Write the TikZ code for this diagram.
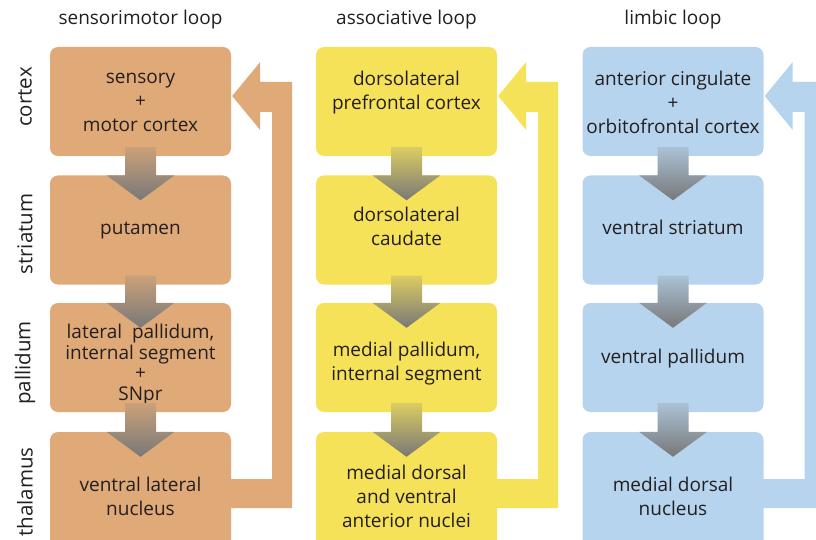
\documentclass[tikz,border=0pt]{standalone}
\usepackage{fontspec}
\setmainfont{Open Sans}
\usetikzlibrary{calc}
\definecolor{smc}{RGB}{224,170,120}
\definecolor{asc}{RGB}{246,226,88}
\definecolor{lbc}{RGB}{182,212,238}
\definecolor{txt}{RGB}{35,31,32}
\definecolor{arrgray}{RGB}{120,120,120}
\newcommand\flowdown[3]{%
  \shade[top color=#3!78!gray, bottom color=arrgray]
    ($(#1.south)+(-15.5,-9)$) -- ($(#1.south)+(15.5,-9)$) --
    ($(#2.north)+(15.5,0)$) -- ($(#2.north)+(34,0)$) --
    ($(#2.north)+(0,25)$) --
    ($(#2.north)+(-34,0)$) -- ($(#2.north)+(-15.5,0)$) -- cycle;}
\newcommand\feedback[3]{%
  \fill[#3]
    ($(#2.east)+(-2,11)$) -- ($(#2.east)+(61,11)$) --
    ($(#1.east)+(61,-19.5)$) -- ($(#1.east)+(29,-19.5)$) --
    ($(#1.east)+(29,-39.5)$) -- ($(#1.east)+(1,-5.5)$) --
    ($(#1.east)+(29,28.5)$) -- ($(#1.east)+(29,10.5)$) --
    ($(#1.east)+(41,10.5)$) -- ($(#2.east)+(41,-18)$) --
    ($(#2.east)+(-2,-18)$) -- cycle;}
\begin{document}
\begin{tikzpicture}[x=1pt,y=-1pt,
  box/.style={rounded corners=8pt, minimum width=181pt, minimum height=109pt,
    inner sep=0pt},
  lastbox/.style={box, minimum height=130pt},
  boxtext/.style={inner sep=0pt, align=center, text=txt, font=\fontsize{19}{24}\selectfont},
  title/.style={text=txt, font=\fontsize{19}{22}\selectfont},
  rowlab/.style={text=txt, rotate=90, font=\fontsize{20.5}{24}\selectfont}]
\useasboundingbox (0,0) rectangle (816,540);
\clip (0,0) rectangle (816,540);
\fill[white] (0,0) rectangle (816,540);

% titles
\node[title] (ts) at (140.5,20) {sensorimotor loop};
\node[title] (ta) at (406.5,20) {associative loop};
\node[title] (tl) at (673,20) {limbic loop};

% row labels
\node[rowlab] (lc) at (25,97) {cortex};
\node[rowlab] (ls) at (25,234) {striatum};
\node[rowlab] (lp) at (25,363) {pallidum};
\node[rowlab] (lt) at (25,492) {thalamus};

% boxes
\node[box, fill=smc] (s1) at (140.5,101.5) {};
\node[box, fill=smc] (s2) at (140.5,230) {};
\node[box, fill=smc] (s3) at (140.5,357.5) {};
\node[lastbox, fill=smc] (s4) at (140.5,497) {};
\node[box, fill=asc] (a1) at (406.5,101.5) {};
\node[box, fill=asc] (a2) at (406.5,230) {};
\node[box, fill=asc] (a3) at (406.5,357.5) {};
\node[lastbox, fill=asc] (a4) at (406.5,497) {};
\node[box, fill=lbc] (b1) at (673,101.5) {};
\node[box, fill=lbc] (b2) at (673,230) {};
\node[box, fill=lbc] (b3) at (673,357.5) {};
\node[lastbox, fill=lbc] (b4) at (673,497) {};

% box texts
\node[boxtext] (s1t) at ($(s1.center)+(0,1)$) {sensory\\+\\motor cortex};
\node[boxtext] (s2t) at ($(s2.center)+(0,1)$) {putamen};
\node[boxtext, font=\fontsize{19}{20.5}\selectfont] (s3t) at ($(s3.center)+(0,7)$)
  {lateral~ pallidum,\\internal segment\\+\\SNpr};
\node[boxtext] (s4t) at ($(s4.center)+(0,-1)$) {ventral lateral\\nucleus};
\node[boxtext] (a1t) at ($(a1.center)+(0,-9)$) {dorsolateral\\prefrontal cortex};
\node[boxtext] (a2t) at ($(a2.center)+(0,-4)$) {dorsolateral\\caudate};
\node[boxtext] (a3t) at ($(a3.center)+(0,6)$) {medial pallidum,\\internal segment};
\node[boxtext] (a4t) at ($(a4.center)+(0,-1)$) {medial dorsal\\and ventral\\anterior nuclei};
\node[boxtext] (b1t) at ($(b1.center)+(0,1)$) {anterior cingulate\\+\\orbitofrontal cortex};
\node[boxtext] (b2t) at ($(b2.center)+(0,-3)$) {ventral striatum};
\node[boxtext] (b3t) at ($(b3.center)+(0,1)$) {ventral pallidum};
\node[boxtext] (b4t) at ($(b4.center)+(0,-1)$) {medial dorsal\\nucleus};

% feedback loops
\feedback{s1}{s4}{smc}
\feedback{a1}{a4}{asc}
\feedback{b1}{b4}{lbc}

% downward arrows
\flowdown{s1}{s2}{smc}
\flowdown{s2}{s3}{smc}
\flowdown{s3}{s4}{smc}
\flowdown{a1}{a2}{asc}
\flowdown{a2}{a3}{asc}
\flowdown{a3}{a4}{asc}
\flowdown{b1}{b2}{lbc}
\flowdown{b2}{b3}{lbc}
\flowdown{b3}{b4}{lbc}
\end{tikzpicture}
\end{document}
